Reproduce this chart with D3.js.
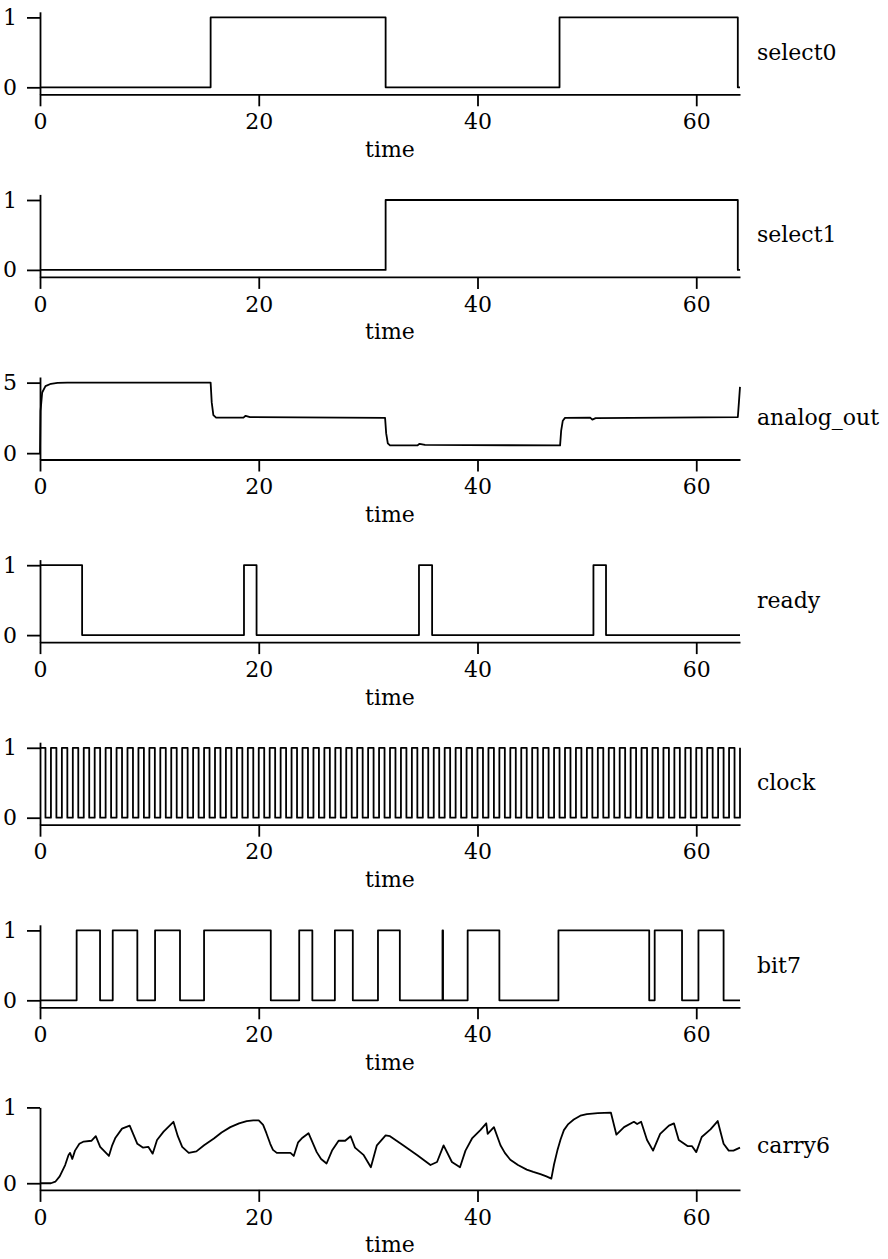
<!DOCTYPE html>
<html>
<head>
<meta charset="utf-8">
<script src="https://cdn.jsdelivr.net/npm/d3@7"></script>
<style>
	body { margin: 0; background: #fff; }
	svg { display: block; }
</style>
</head>
<body>
<svg id="chart" width="888" height="1259"></svg>
<script>
//Signal names, in order from top to bottom
const signalNames = ['select0', 'select1', 'analog_out', 'ready', 'clock', 'bit7', 'carry6']

const xTicks = [0, 20, 40, 60]
const xDomain = [0, 64]

//Tick values and y extent per panel
const yTicks = [[0, 1], [0, 1], [0, 5], [0, 1], [0, 1], [0, 1], [0, 1]]
const yDomains = [
	[-0.1, 1.08],
	[-0.1, 1.08],
	[-0.45, 5.4],
	[-0.1, 1.08],
	[-0.1, 1.08],
	[-0.1, 1.08],
	[-0.088, 1.0],
]

//Digital signals as [time, level] change points (held until next)
const select0 = [[0, 0], [15.6, 1], [31.6, 0], [47.5, 1], [63.8, 0], [64, 0]]
const select1 = [[0, 0], [31.6, 1], [63.8, 0], [64, 0]]
const ready = [[0, 1], [3.85, 0], [18.65, 1], [19.8, 0], [34.65, 1], [35.85, 0], [50.6, 1], [51.75, 0], [64, 0]]
const bit7 = [
	[0, 0], [3.35, 1], [5.49, 0], [6.65, 1], [8.9, 0], [10.52, 1], [12.8, 0], [15.0, 1], [21.1, 0],
	[23.7, 1], [24.9, 0], [26.96, 1], [28.6, 0], [30.9, 1], [32.9, 0], [36.8, 1], [36.85, 0], [39.1, 1],
	[42.0, 0], [47.4, 1], [55.7, 0], [56.2, 1], [58.7, 0], [60.2, 1], [62.5, 0], [64, 0],
]

//Clock edges
const clockRise = [
	0, 1, 2, 3, 4, 5, 6, 7, 8, 9, 10, 11, 12, 13, 14, 15, 16, 17, 18, 19, 20, 21, 22, 23, 24, 25, 26, 27, 28, 29, 30, 31,
	32, 33, 34, 35, 36, 37, 38, 39, 40, 41, 42, 43, 44, 45, 46, 47, 48, 49, 50, 51, 52, 53, 54, 55, 56, 57, 58, 59, 60, 61, 62, 63,
]
const clockFall = [
	0.5, 1.5, 2.5, 3.5, 4.5, 5.5, 6.5, 7.5, 8.5, 9.5, 10.5, 11.5, 12.5, 13.5, 14.5, 15.5, 16.5, 17.5, 18.5, 19.5, 20.5, 21.5,
	22.5, 23.5, 24.5, 25.5, 26.5, 27.5, 28.5, 29.5, 30.5, 31.5, 32.5, 33.5, 34.5, 35.5, 36.5, 37.5, 38.5, 39.5, 40.5, 41.5,
	42.5, 43.5, 44.5, 45.5, 46.5, 47.5, 48.5, 49.5, 50.5, 51.5, 52.5, 53.5, 54.5, 55.5, 56.5, 57.5, 58.5, 59.5, 60.5, 61.5,
	62.5, 63.5,
]

//Analog signals as [time, value] samples
const analogOut = [
	[0, 0], [0.05, 3.0], [0.2, 4.3], [0.5, 4.75], [1.0, 4.92], [1.6, 4.98], [2.5, 5.0], [15.6, 5.0], [15.7, 3.6],
	[15.85, 2.7], [16.1, 2.52], [18.6, 2.52], [18.8, 2.65], [19.2, 2.55], [31.55, 2.5], [31.65, 1.4], [31.8, 0.7],
	[32.0, 0.55], [34.5, 0.55], [34.7, 0.66], [35.2, 0.58], [47.55, 0.55], [47.65, 1.6], [47.8, 2.3], [48.0, 2.5],
	[50.3, 2.52], [50.5, 2.38], [50.8, 2.48], [63.8, 2.55], [63.9, 3.6], [64, 4.7],
]
const carry6 = [
	[0, 0], [1.0, 0], [1.4, 0.02], [1.8, 0.09], [2.3, 0.24], [2.6, 0.37], [2.75, 0.4], [2.95, 0.32], [3.2, 0.43],
	[3.6, 0.52], [4.0, 0.55], [4.7, 0.56], [5.1, 0.62], [5.5, 0.48], [6.3, 0.36], [6.6, 0.5], [6.9, 0.6], [7.5, 0.72],
	[8.2, 0.76], [8.9, 0.52], [9.4, 0.47], [9.9, 0.48], [10.3, 0.39], [10.7, 0.57], [11.3, 0.68], [12.2, 0.81],
	[12.6, 0.62], [13.0, 0.48], [13.6, 0.4], [14.3, 0.42], [15.0, 0.5], [15.9, 0.59], [16.6, 0.67], [17.4, 0.74],
	[18.2, 0.79], [18.9, 0.82], [19.5, 0.83], [20.0, 0.83], [20.4, 0.77], [20.7, 0.66], [21.05, 0.52], [21.3, 0.44],
	[21.65, 0.4], [22.9, 0.4], [23.2, 0.36], [23.6, 0.54], [24.0, 0.6], [24.55, 0.66], [25.3, 0.41], [25.7, 0.32],
	[26.2, 0.26], [26.7, 0.43], [27.3, 0.56], [27.9, 0.56], [28.4, 0.62], [28.8, 0.47], [29.6, 0.37], [30.25, 0.21],
	[30.8, 0.5], [31.6, 0.63], [32.0, 0.62], [33.2, 0.5], [34.5, 0.37], [35.7, 0.24], [36.3, 0.28], [36.9, 0.5],
	[37.66, 0.28], [38.4, 0.21], [38.9, 0.43], [39.5, 0.59], [40.26, 0.7], [40.8, 0.79], [40.93, 0.65], [41.5, 0.74],
	[42.1, 0.5], [42.5, 0.4], [43.0, 0.31], [43.7, 0.24], [44.5, 0.18], [45.1, 0.15], [45.75, 0.12], [46.3, 0.09],
	[46.75, 0.06], [47.0, 0.25], [47.3, 0.43], [47.6, 0.58], [47.9, 0.7], [48.3, 0.78], [48.8, 0.84], [49.4, 0.89],
	[50.0, 0.91], [51.0, 0.925], [52.2, 0.93], [52.7, 0.64], [53.4, 0.74], [54.3, 0.81], [54.6, 0.78], [54.96, 0.81],
	[55.5, 0.57], [56.05, 0.43], [56.7, 0.65], [57.5, 0.76], [57.96, 0.79], [58.4, 0.57], [59.2, 0.49], [59.6, 0.49],
	[60.0, 0.41], [60.5, 0.61], [61.3, 0.71], [61.96, 0.82], [62.5, 0.52], [62.97, 0.43], [63.4, 0.43], [64, 0.47],
]

//Build clock change points from its edges
const clock = clockRise
	.map(t => [t, 1])
	.concat(clockFall.map(t => [t, 0]))
	.sort((a, b) => a[0] - b[0])
clock.push([64, 1])

const series = [
	{ points: select0, step: true },
	{ points: select1, step: true },
	{ points: analogOut, step: false },
	{ points: ready, step: true },
	{ points: clock, step: true },
	{ points: bit7, step: true },
	{ points: carry6, step: false },
]

//Layout
const font = 'DejaVu Serif, serif'
const fontSize = 22
const left = 40
const right = 740
const firstAxis = 94.3
const panelStep = 182.6
const plotHeight = 82.5
const lineWidth = 1.8

const svg = d3.select('#chart')

const x = d3.scaleLinear().domain(xDomain).range([left, right])

function styleAxis(axis) {
	axis.select('.domain').attr('stroke', '#000').attr('stroke-width', lineWidth)
	axis.selectAll('.tick line').attr('stroke', '#000').attr('stroke-width', lineWidth)
	axis.selectAll('.tick text')
		.attr('fill', '#000')
		.style('font-family', font)
		.style('font-size', fontSize + 'px')
}

signalNames.forEach((name, i) => {
	const axisY = firstAxis + i * panelStep
	const y = d3.scaleLinear().domain(yDomains[i]).range([axisY, axisY - plotHeight])

	const g = svg.append('g').classed('panel', true)

	//x axis
	const xAxis = g
		.append('g')
		.attr('transform', 'translate(0,' + axisY + ')')
		.call(
			d3.axisBottom(x).tickValues(xTicks).tickFormat(d3.format('d')).tickSize(12).tickSizeOuter(0).tickPadding(7)
		)
	styleAxis(xAxis)

	//y axis
	const yAxis = g
		.append('g')
		.attr('transform', 'translate(' + left + ',0)')
		.call(
			d3.axisLeft(y).tickValues(yTicks[i]).tickFormat(d3.format('d')).tickSize(13).tickSizeOuter(0).tickPadding(10)
		)
	styleAxis(yAxis)

	//trace
	const line = d3
		.line()
		.x(d => x(d[0]))
		.y(d => y(d[1]))
		.curve(series[i].step ? d3.curveStepAfter : d3.curveLinear)

	g.append('path')
		.datum(series[i].points)
		.attr('d', line)
		.attr('fill', 'none')
		.attr('stroke', '#000')
		.attr('stroke-width', lineWidth)
		.attr('stroke-linejoin', 'round')

	//axis title
	g.append('text')
		.attr('x', (left + right) / 2)
		.attr('y', axisY + 55)
		.attr('text-anchor', 'middle')
		.attr('dominant-baseline', 'central')
		.style('font-family', font)
		.style('font-size', fontSize + 'px')
		.text('time')

	//signal name on the right
	const mid = (y(yTicks[i][0]) + y(yTicks[i][1])) / 2
	g.append('text')
		.attr('x', 757)
		.attr('y', mid)
		.attr('dominant-baseline', 'central')
		.style('font-family', font)
		.style('font-size', fontSize + 'px')
		.text(name)
})
</script>
</body>
</html>
